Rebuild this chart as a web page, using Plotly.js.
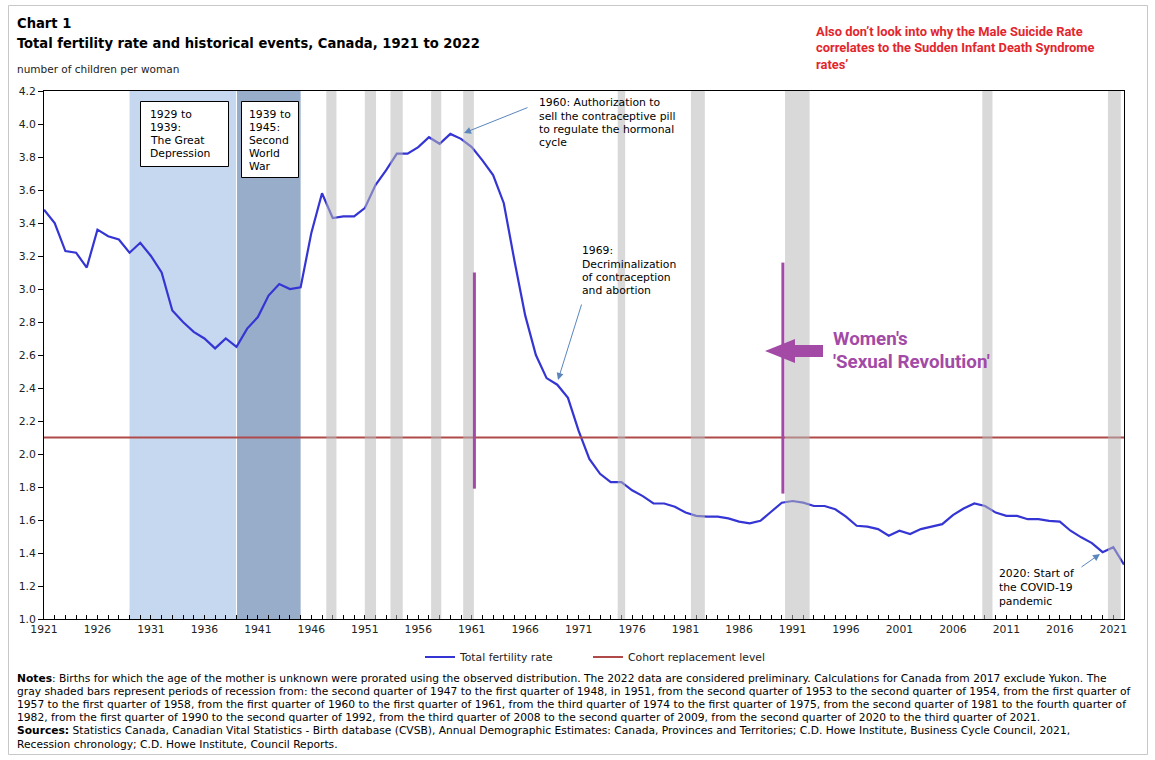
<!DOCTYPE html>
<html>
<head>
<meta charset="utf-8">
<script src="https://cdn.plot.ly/plotly-3.0.1.min.js"></script>
<style>
  html, body { margin: 0; padding: 0; background: #ffffff; }
  #chart { width: 1155px; height: 760px; }
</style>
</head>
<body>
<div id="chart"></div>
<script>
// ---------------- DATA ----------------
const years = [1921,1922,1923,1924,1925,1926,1927,1928,1929,1930,
  1931,1932,1933,1934,1935,1936,1937,1938,1939,1940,
  1941,1942,1943,1944,1945,1946,1947,1948,1949,1950,
  1951,1952,1953,1954,1955,1956,1957,1958,1959,1960,
  1961,1962,1963,1964,1965,1966,1967,1968,1969,1970,
  1971,1972,1973,1974,1975,1976,1977,1978,1979,1980,
  1981,1982,1983,1984,1985,1986,1987,1988,1989,1990,
  1991,1992,1993,1994,1995,1996,1997,1998,1999,2000,
  2001,2002,2003,2004,2005,2006,2007,2008,2009,2010,
  2011,2012,2013,2014,2015,2016,2017,2018,2019,2020,
  2021,2022];

const fertility = [3.48,3.40,3.23,3.22,3.13,3.36,3.32,3.30,3.22,3.28,
  3.20,3.10,2.87,2.80,2.74,2.70,2.64,2.70,2.65,2.76,
  2.83,2.96,3.03,3.00,3.01,3.34,3.58,3.43,3.44,3.44,
  3.49,3.63,3.72,3.82,3.82,3.86,3.92,3.88,3.94,3.91,
  3.86,3.78,3.69,3.52,3.17,2.84,2.60,2.46,2.42,2.34,
  2.14,1.97,1.88,1.83,1.83,1.78,1.745,1.70,1.70,1.68,
  1.645,1.625,1.62,1.62,1.61,1.59,1.58,1.595,1.65,1.705,
  1.715,1.705,1.685,1.685,1.665,1.62,1.565,1.56,1.545,1.505,
  1.535,1.515,1.545,1.56,1.575,1.63,1.67,1.70,1.685,1.645,
  1.625,1.625,1.605,1.605,1.595,1.59,1.535,1.495,1.46,1.405,
  1.435,1.33];

const replacementYears = [1921, 2022];
const replacementLevel = [2.1, 2.1];

// Recession periods (decimal years, as shaded in the chart)
const recessionStart = [1947.4, 1951.0, 1953.4, 1957.2, 1960.2, 1974.65, 1981.5, 1990.3, 2008.75, 2020.5];
const recessionEnd   = [1948.35, 1952.05, 1954.55, 1958.15, 1961.2, 1975.35, 1982.8, 1992.6, 2009.7, 2021.7];

// Historical periods
const depressionPeriod = [1929, 1939];
const warPeriod = [1939, 1945];

// Event markers (purple lines)
const eventYears = [1961.25, 1990.1];
const eventLow  = [1.79, 1.76];
const eventHigh = [3.10, 3.16];

// Tick labels
const tickYears = [1921,1926,1931,1936,1941,1946,1951,1956,1961,1966,1971,1976,1981,1986,1991,1996,2001,2006,2011,2016,2021];
const yTicks = [1.0,1.2,1.4,1.6,1.8,2.0,2.2,2.4,2.6,2.8,3.0,3.2,3.4,3.6,3.8,4.0,4.2];

// ---------------- LAYOUT HELPERS ----------------
const L = 44, R = 1124, T = 91, B = 619;
const px = x => (x - L) / (R - L);
const py = y => (B - y) / (B - T);
const BODY = '"DejaVu Sans", Verdana, sans-serif';
const TITLE = '"DejaVu Sans Condensed", "DejaVu Sans", sans-serif';
const DIN = 'Roboto, "Noto Sans", sans-serif';

const annotations = [];
function textAt(x, y, text, size, color, family, anchor) {
  annotations.push({
    xref: 'paper', yref: 'paper', x: px(x), y: py(y),
    xanchor: anchor || 'left', yanchor: 'middle',
    text: text, showarrow: false,
    font: { size: size, color: color || '#000', family: family || BODY }
  });
}
function linesAt(x, y0, dy, lines, size, color, family) {
  lines.forEach((t, i) => textAt(x, y0 + i * dy, t, size, color, family));
}
function arrowTo(hx, hy, tx, ty) {
  annotations.push({
    xref: 'paper', yref: 'paper', x: px(hx), y: py(hy),
    ax: tx - hx, ay: ty - hy, text: '', showarrow: true,
    arrowhead: 2, arrowsize: 1.4, arrowwidth: 1, arrowcolor: '#5a86bd', standoff: 0
  });
}

// Titles
textAt(15, 23, '<b>Chart 1</b>', 14.6, '#000', TITLE);
textAt(15, 42, '<b>Total fertility rate and historical events, Canada, 1921 to 2022</b>', 14.6, '#000', TITLE);
textAt(15, 69, 'number of children per woman', 10.5, '#222');

// Red comment
linesAt(814, 31, 16.5, [
  '<b>Also don\u2019t look into why the Male Suicide Rate</b>',
  '<b>correlates to the Sudden Infant Death Syndrome</b>',
  '<b>rates\u2019</b>'], 12.9, '#e3262d', DIN);

// Period boxes text
linesAt(148, 114, 13, ['1929 to', '1939:', 'The Great', 'Depression'], 10.8, '#000');
linesAt(247, 114, 13, ['1939 to', '1945:', 'Second', 'World', 'War'], 10.8, '#000');

// Event texts
linesAt(537, 103, 13, ['1960: Authorization to', 'sell the contraceptive pill', 'to regulate the hormonal', 'cycle'], 10.8, '#000');
linesAt(580, 251, 13, ['1969:', 'Decriminalization', 'of contraception', 'and abortion'], 10.8, '#000');
linesAt(997, 573, 14, ['2020: Start of', 'the COVID-19', 'pandemic'], 10.8, '#000');
arrowTo(464, 133, 529, 107);
arrowTo(558, 380, 582, 303);
arrowTo(1100, 554, 1080, 568);

// Purple text
linesAt(831, 339, 22.5, ['<b>Women\'s</b>', '<b>\'Sexual Revolution\'</b>'], 18.8, '#a24aa6', DIN);

// Notes
linesAt(15, 678, 13.2, [
  '<b>Notes</b>: Births for which the age of the mother is unknown were prorated using the observed distribution. The 2022 data are considered preliminary. Calculations for Canada from 2017 exclude Yukon. The',
  'gray shaded bars represent periods of recession from: the second quarter of 1947 to the first quarter of 1948, in 1951, from the second quarter of 1953 to the second quarter of 1954, from the first quarter of',
  '1957 to the first quarter of 1958, from the first quarter of 1960 to the first quarter of 1961, from the third quarter of 1974 to the first quarter of 1975, from the second quarter of 1981 to the fourth quarter of',
  '1982, from the first quarter of 1990 to the second quarter of 1992, from the third quarter of 2008 to the second quarter of 2009, from the second quarter of 2020 to the third quarter of 2021.',
  '<b>Sources:</b> Statistics Canada, Canadian Vital Statistics - Birth database (CVSB), Annual Demographic Estimates: Canada, Provinces and Territories; C.D. Howe Institute, Business Cycle Council, 2021,',
  'Recession chronology; C.D. Howe Institute, Council Reports.'
], 10.7, '#000');

// ---------------- SHAPES ----------------
const shapes = [];
// outer frame
shapes.push({ type: 'rect', xref: 'paper', yref: 'paper', x0: px(8.5), x1: px(1147.5), y0: py(754.5), y1: py(5.5),
  line: { color: '#c8c8c8', width: 1 }, fillcolor: 'rgba(0,0,0,0)', layer: 'below' });
// depression & war
shapes.push({ type: 'rect', xref: 'x', yref: 'paper', x0: depressionPeriod[0], x1: depressionPeriod[1], y0: 0, y1: 1,
  fillcolor: '#c6d8ef', line: { width: 0 }, layer: 'below' });
shapes.push({ type: 'rect', xref: 'x', yref: 'paper', x0: warPeriod[0], x1: warPeriod[1], y0: 0, y1: 1,
  fillcolor: '#97adca', line: { width: 0 }, layer: 'below' });
shapes.push({ type: 'line', xref: 'x', yref: 'paper', x0: warPeriod[0], x1: warPeriod[0], y0: 0, y1: 1,
  line: { color: '#ffffff', width: 1 }, layer: 'below' });
// boxes for period labels
shapes.push({ type: 'rect', xref: 'paper', yref: 'paper', x0: px(140.5), x1: px(228.5), y0: py(166.5), y1: py(101.5),
  fillcolor: '#ffffff', line: { color: '#000', width: 1 }, layer: 'below' });
shapes.push({ type: 'rect', xref: 'paper', yref: 'paper', x0: px(241.5), x1: px(298.5), y0: py(177.5), y1: py(101.5),
  fillcolor: '#ffffff', line: { color: '#000', width: 1 }, layer: 'below' });
// recession bars (semi-transparent, above the lines)
recessionStart.forEach((s, i) => {
  shapes.push({ type: 'rect', xref: 'x', yref: 'paper', x0: s, x1: recessionEnd[i], y0: 0, y1: 1,
    fillcolor: 'rgba(185,185,185,0.54)', line: { width: 0 }, layer: 'above' });
});
// purple event lines
eventYears.forEach((x, i) => {
  shapes.push({ type: 'line', xref: 'x', yref: 'y', x0: x, x1: x, y0: eventLow[i], y1: eventHigh[i],
    line: { color: '#a24aa6', width: 3 }, layer: 'above' });
});
// purple block arrow
const arrowPts = [[823,345],[795,345],[795,339],[765,351],[795,363],[795,357],[823,357]];
shapes.push({ type: 'path', xref: 'paper', yref: 'paper',
  path: 'M ' + arrowPts.map(p => px(p[0]) + ',' + py(p[1])).join(' L ') + ' Z',
  fillcolor: '#a24aa6', line: { width: 0 }, layer: 'above' });

// ---------------- TRACES ----------------
const traces = [
  { x: years, y: fertility, type: 'scatter', mode: 'lines', name: 'Total fertility rate',
    line: { color: '#3535d4', width: 2.2 }, legend: 'legend', hoverinfo: 'x+y' },
  { x: replacementYears, y: replacementLevel, type: 'scatter', mode: 'lines', name: 'Cohort replacement level',
    line: { color: '#b04a4a', width: 2 }, legend: 'legend2', hoverinfo: 'y' }
];

const legendFont = { family: BODY, size: 10.8, color: '#222' };
const layout = {
  width: 1155, height: 760,
  margin: { l: L, r: 1155 - R, t: T, b: 760 - B },
  paper_bgcolor: '#ffffff', plot_bgcolor: '#ffffff',
  font: { family: BODY, size: 10.8, color: '#222' },
  showlegend: true,
  legend: { x: px(420), y: py(657), xanchor: 'left', yanchor: 'middle', orientation: 'h',
    bgcolor: 'rgba(0,0,0,0)', font: legendFont },
  legend2: { x: px(588), y: py(657), xanchor: 'left', yanchor: 'middle', orientation: 'h',
    bgcolor: 'rgba(0,0,0,0)', font: legendFont },
  xaxis: {
    range: [1921, 2022], showgrid: false, zeroline: false,
    showline: true, linecolor: '#000', linewidth: 1, mirror: true,
    tickmode: 'array', tickvals: tickYears, ticktext: tickYears.map(String),
    ticks: 'inside', ticklen: 4, tickcolor: '#000',
    minor: { tick0: 1921, dtick: 1, ticks: 'inside', ticklen: 4, tickcolor: '#000', showgrid: false },
    tickfont: { family: BODY, size: 10.8, color: '#222' }
  },
  yaxis: {
    range: [1.0, 4.2], showgrid: false, zeroline: false,
    showline: true, linecolor: '#000', linewidth: 1, mirror: true,
    tickmode: 'array', tickvals: yTicks, ticktext: yTicks.map(v => v.toFixed(1)),
    ticks: 'outside', ticklen: 5, tickcolor: '#000',
    tickfont: { family: BODY, size: 10.8, color: '#222' }
  },
  shapes: shapes,
  annotations: annotations
};

Plotly.newPlot('chart', traces, layout, { displayModeBar: false, staticPlot: true });
</script>
</body>
</html>
